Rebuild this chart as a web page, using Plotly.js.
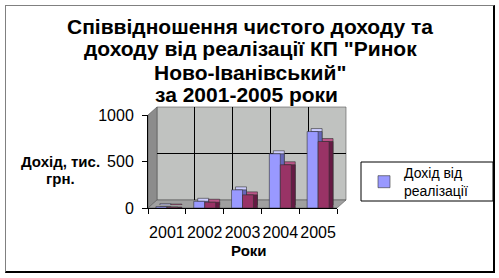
<!DOCTYPE html>
<html>
<head>
<meta charset="utf-8">
<script src="https://cdn.plot.ly/plotly-3.0.1.min.js"></script>
<style>
  html, body { margin: 0; padding: 0; background: #fff; }
  #wrap { position: relative; width: 499px; height: 278px; }
  #chart { position: absolute; left: 0; top: 0; width: 499px; height: 278px; }
  #frame { position: absolute; left: 5px; top: 5px; width: 487px; height: 265px;
           border-left: 1px solid #808080; border-top: 1px solid #808080;
           border-right: 2px solid #000; border-bottom: 2px solid #000; pointer-events: none; }
</style>
</head>
<body>
<div id="wrap"><div id="chart"></div><div id="frame"></div></div>
<script>
// ---- data ----
const years = ['2001', '2002', '2003', '2004', '2005'];
const salesIncome = [15, 72, 195, 583, 822];   // Дохід від реалізації
const netIncome = [10, 62, 141, 465, 715];     // Чистий дохід
const seriesNames = ['Дохід від<br>реалізації', 'Чистий дохід'];
const titleLines = ['Співвідношення чистого доходу та', 'доходу від реалізації КП "Ринок', 'Ново-Іванівський"', 'за 2001-2005 роки'];
const yTitleLines = ['Дохід, тис.', 'грн.'];
const xTitle = 'Роки';
const yTicks = [0, 500, 1000];

// ---- geometry (pixels) ----
const L = 148, R = 346, T = 107, B = 208, W = 499, H = 278;
const PW = R - L, PH = B - T;
const px = v => (v - L) / PW;
const py = v => (B - v) / PH;
const FONT = '"Liberation Sans", Arial, sans-serif';

const blue = {front: '#9999ff', top: '#ccccff', side: '#6666bb'};
const maroon = {front: '#993366', top: '#bb5588', side: '#661a44'};
const edge = {color: '#333333', width: 0.6};

function bars(y, col, ax, name, show) {
  return {type: 'bar', x: years, y: y, name: name, showlegend: show,
          xaxis: 'x' + ax, yaxis: 'y' + ax, marker: {color: col, line: edge},
          hoverinfo: 'skip'};
}

const traces = [
  // empty trace so the back-wall subplot (grid only) is created
  {type: 'bar', x: [], y: [], xaxis: 'x', yaxis: 'y', showlegend: false, hoverinfo: 'skip'},
  bars(salesIncome, blue.top, 2, seriesNames[0], false),
  bars(netIncome, maroon.top, 2, seriesNames[1], false),
  bars(salesIncome, blue.side, 3, seriesNames[0], false),
  bars(netIncome, maroon.side, 3, seriesNames[1], false),
  bars(salesIncome, blue.front, 4, seriesNames[0], true),
  bars(netIncome, maroon.front, 4, seriesNames[1], false)
];

const hidden = {showgrid: false, zeroline: false, showline: false, showticklabels: false, ticks: ''};
const catAxis = (d) => Object.assign({type: 'category', categoryorder: 'array', categoryarray: years, range: [-0.5, 4.5], domain: d, fixedrange: true}, hidden);
const valAxis = (d) => Object.assign({range: [0, 1000], domain: d, fixedrange: true}, hidden);

const shiftX = 4, shiftY = 3, wallDX = 9, wallDY = 8;

const annotations = [];
const titleY = [26, 49, 72, 95];
const titleX = [250, 250, 250, 246];
titleLines.forEach((t, i) => annotations.push({text: '<b>' + t + '</b>', xref: 'paper', yref: 'paper',
  x: px(titleX[i]), y: py(titleY[i]), xanchor: 'center', yanchor: 'middle', showarrow: false,
  font: {family: FONT, size: 21, color: '#000'}}));
const yTitleY = [161, 178];
yTitleLines.forEach((t, i) => annotations.push({text: '<b>' + t + '</b>', xref: 'paper', yref: 'paper',
  x: px(60), y: py(yTitleY[i]), xanchor: 'center', yanchor: 'middle', showarrow: false,
  font: {family: FONT, size: 15, color: '#000'}}));
annotations.push({text: '<b>' + xTitle + '</b>', xref: 'paper', yref: 'paper',
  x: px(249), y: py(250), xanchor: 'center', yanchor: 'middle', showarrow: false,
  font: {family: FONT, size: 15, color: '#000'}});

const layout = {
  width: W, height: H,
  margin: {l: L, r: W - R, t: T, b: H - B, pad: 0},
  paper_bgcolor: '#ffffff', plot_bgcolor: 'rgba(0,0,0,0)',
  font: {family: FONT, size: 16, color: '#000'},
  barmode: 'group', bargap: 0.42, bargroupgap: 0,
  showlegend: true,
  legend: {xref: 'container', yref: 'container', x: 364 / W, y: 1 - 157 / H, xanchor: 'left', yanchor: 'top',
           bgcolor: 'rgba(0,0,0,0)', borderwidth: 0, font: {family: FONT, size: 14, color: '#000'}},
  // back wall grid
  xaxis: {range: [-0.5, 4.5], domain: [px(L + wallDX), 1], anchor: 'y', fixedrange: true,
          tickmode: 'array', tickvals: [-0.5, 0.5, 1.5, 2.5, 3.5, 4.5], showgrid: true, gridcolor: '#000', gridwidth: 1,
          zeroline: false, showline: false, showticklabels: false, ticks: ''},
  yaxis: {range: [0, 1000], domain: [py(B - wallDY), 1], anchor: 'x', fixedrange: true,
          tickmode: 'array', tickvals: yTicks, showgrid: true, gridcolor: '#000', gridwidth: 1,
          zeroline: false, showline: false, showticklabels: false, ticks: ''},
  // top faces
  xaxis2: Object.assign(catAxis([px(L + shiftX), px(R - wallDX + shiftX)]), {anchor: 'y2'}),
  yaxis2: Object.assign(valAxis([py(B - shiftY), py(T + wallDY - shiftY)]), {anchor: 'x2'}),
  // side faces
  xaxis3: Object.assign(catAxis([px(L + shiftX), px(R - wallDX + shiftX)]), {anchor: 'y3'}),
  yaxis3: Object.assign(valAxis([0, py(T + wallDY)]), {anchor: 'x3'}),
  // front faces + visible axes
  xaxis4: {type: 'category', categoryorder: 'array', categoryarray: years, range: [-0.5, 4.5],
           domain: [0, px(R - wallDX)], anchor: 'y4', fixedrange: true, tickangle: 0,
           showline: true, linecolor: '#000', linewidth: 1, ticks: 'outside', tickson: 'boundaries',
           ticklen: 5, tickcolor: '#000', showgrid: false, zeroline: false, ticklabelstandoff: 10,
           tickfont: {family: FONT, size: 16, color: '#000'}},
  yaxis4: {range: [0, 1000], domain: [0, py(T + wallDY)], anchor: 'x4', fixedrange: true,
           tickmode: 'array', tickvals: yTicks, showline: true, linecolor: '#000', linewidth: 1, ticks: 'outside',
           ticklen: 5, tickcolor: '#000', showgrid: false, zeroline: false, ticklabelstandoff: 5,
           tickfont: {family: FONT, size: 16, color: '#000'}},
  shapes: [
    // back wall
    {type: 'rect', xref: 'paper', yref: 'paper', x0: px(L + wallDX), x1: 1, y0: py(B - wallDY), y1: 1,
     fillcolor: '#c0c2c0', line: {color: '#555', width: 0.6}, layer: 'below'},
    // side wall
    {type: 'path', xref: 'paper', yref: 'paper', layer: 'below',
     path: `M 0 0 L 0 ${py(T + wallDY)} L ${px(L + wallDX)} 1 L ${px(L + wallDX)} ${py(B - wallDY)} Z`,
     fillcolor: '#8c8c8c', line: {color: '#555', width: 0.6}},
    // floor
    {type: 'path', xref: 'paper', yref: 'paper', layer: 'below',
     path: `M 0 0 L ${px(R - wallDX)} 0 L 1 ${py(B - wallDY)} L ${px(L + wallDX)} ${py(B - wallDY)} Z`,
     fillcolor: '#a0a0a0', line: {color: '#555', width: 0.6}},
    // legend box
    {type: 'rect', xref: 'paper', yref: 'paper', x0: px(361), x1: px(493), y0: py(201), y1: py(162),
     fillcolor: 'rgba(0,0,0,0)', line: {color: '#000', width: 1}}
  ],
  annotations: annotations
};

Plotly.newPlot('chart', traces, layout, {staticPlot: true, displayModeBar: false});
</script>
</body>
</html>
